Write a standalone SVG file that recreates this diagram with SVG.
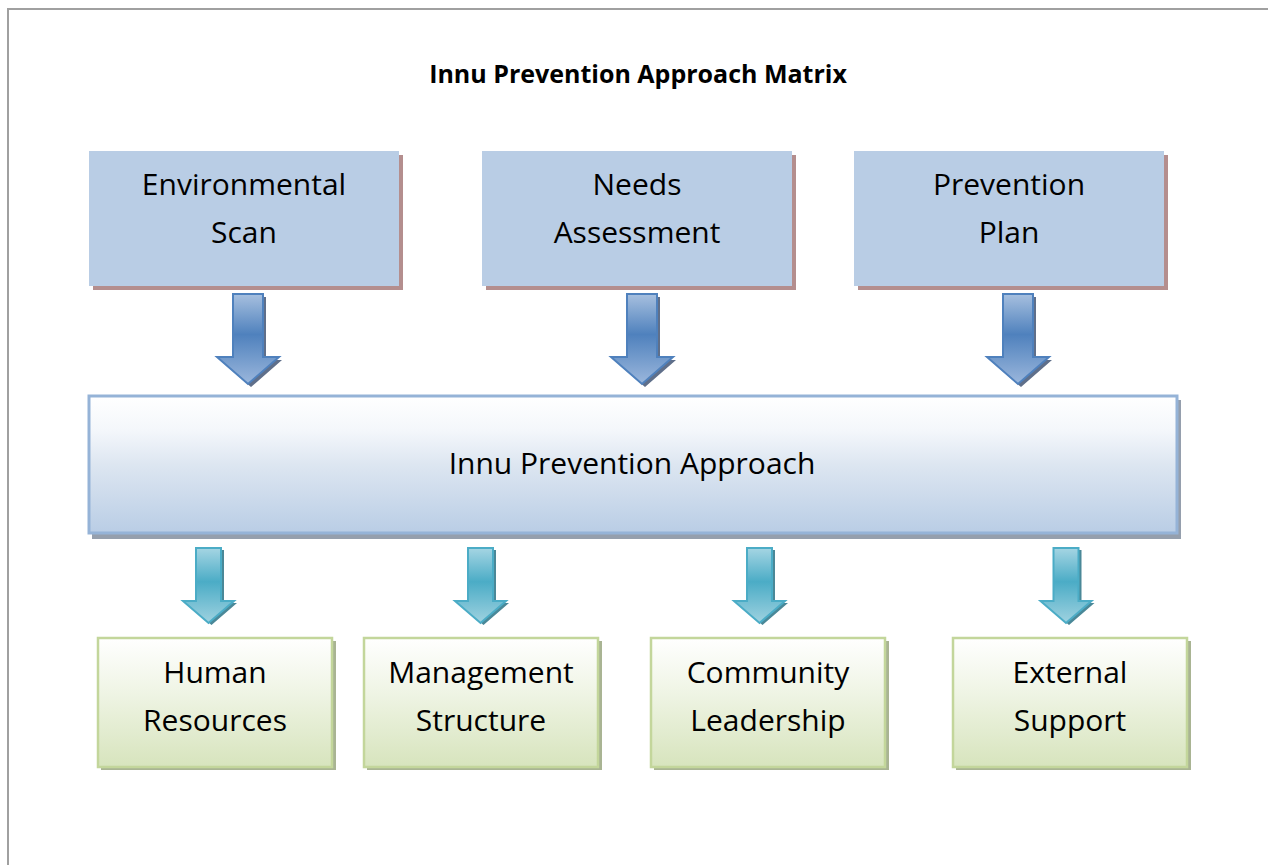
<svg xmlns="http://www.w3.org/2000/svg" width="1268" height="865" viewBox="0 0 1268 865">
<style>
text{font-family:"Open Sans","Liberation Sans",sans-serif;fill:#000;text-anchor:middle}
.lbl{font-size:30px}
.title{font-size:25px;font-weight:bold}
.top{fill:#b9cde5}
.topsh{fill:#b48e8e}
.mid{fill:url(#gMid);stroke:#95b3d7;stroke-width:3}
.midsh{fill:#959fad}
.bot{fill:url(#gBot);stroke:#c3d69b;stroke-width:2.5}
.botsh{fill:#a9b493}
.ab{fill:url(#gArB);stroke:#4f81bd;stroke-width:2}
.at{fill:url(#gArT);stroke:#4bacc6;stroke-width:2}
.ash{fill:#5f6f8a}
.atsh{fill:#4a8898}
</style>
<defs>
<linearGradient id="gMid" x1="0" y1="0" x2="0" y2="1">
<stop offset="0" stop-color="#ffffff"/><stop offset="0.25" stop-color="#f4f7fb"/><stop offset="0.5" stop-color="#dde6f1"/><stop offset="1" stop-color="#b9cde5"/>
</linearGradient>
<linearGradient id="gBot" x1="0" y1="0" x2="0" y2="1">
<stop offset="0" stop-color="#ffffff"/><stop offset="0.4" stop-color="#f0f5e6"/><stop offset="1" stop-color="#d7e4bd"/>
</linearGradient>
<linearGradient id="gArB" x1="0" y1="0" x2="0" y2="1">
<stop offset="0" stop-color="#a7c0df"/><stop offset="0.45" stop-color="#4f81bd"/><stop offset="1" stop-color="#9bb7dc"/>
</linearGradient>
<linearGradient id="gArT" x1="0" y1="0" x2="0" y2="1">
<stop offset="0" stop-color="#a5d5e3"/><stop offset="0.45" stop-color="#4bacc6"/><stop offset="1" stop-color="#9fd2e0"/>
</linearGradient>
<path id="arB" d="M-15,0 H15 V63 H31 L0,90 L-31,63 H-15 Z"/>
<path id="arT" d="M-12.5,0 H12.5 V53 H25.5 L0,75 L-25.5,53 H-12.5 Z"/>
</defs>
<rect x="8" y="9" width="1300" height="900" fill="#ffffff" stroke="#a0a0a0" stroke-width="2"/>
<text class="title" x="638" y="83">Innu Prevention Approach Matrix</text>

<g id="node-env">
<rect class="topsh" x="93" y="155" width="310" height="135"/>
<rect class="top" x="89" y="151" width="310" height="135"/>
<text class="lbl" x="244" y="195">Environmental</text>
<text class="lbl" x="244" y="243">Scan</text>
</g>
<g id="node-needs">
<rect class="topsh" x="486" y="155" width="310" height="135"/>
<rect class="top" x="482" y="151" width="310" height="135"/>
<text class="lbl" x="637" y="195">Needs</text>
<text class="lbl" x="637" y="243">Assessment</text>
</g>
<g id="node-plan">
<rect class="topsh" x="858" y="155" width="310" height="135"/>
<rect class="top" x="854" y="151" width="310" height="135"/>
<text class="lbl" x="1009" y="195">Prevention</text>
<text class="lbl" x="1009" y="243">Plan</text>
</g>

<g id="node-approach">
<rect class="midsh" x="92" y="400" width="1089" height="139"/>
<rect class="mid" x="89" y="396" width="1088" height="137"/>
<text class="lbl" x="632" y="474">Innu Prevention Approach</text>
</g>

<g id="node-hr">
<rect class="botsh" x="101" y="641" width="235" height="129"/>
<rect class="bot" x="98" y="638" width="234" height="129"/>
<text class="lbl" x="215" y="683">Human</text>
<text class="lbl" x="215" y="731">Resources</text>
</g>
<g id="node-ms">
<rect class="botsh" x="367" y="641" width="235" height="129"/>
<rect class="bot" x="364" y="638" width="234" height="129"/>
<text class="lbl" x="481" y="683">Management</text>
<text class="lbl" x="481" y="731">Structure</text>
</g>
<g id="node-cl">
<rect class="botsh" x="654" y="641" width="235" height="129"/>
<rect class="bot" x="651" y="638" width="234" height="129"/>
<text class="lbl" x="768" y="683">Community</text>
<text class="lbl" x="768" y="731">Leadership</text>
</g>
<g id="node-es">
<rect class="botsh" x="956" y="641" width="235" height="129"/>
<rect class="bot" x="953" y="638" width="234" height="129"/>
<text class="lbl" x="1070" y="683">External</text>
<text class="lbl" x="1070" y="731">Support</text>
</g>

<g id="connectors">
<use href="#arB" class="ash" transform="translate(251,297)"/>
<use href="#arB" class="ab" transform="translate(248,294)"/>
<use href="#arB" class="ash" transform="translate(645,297)"/>
<use href="#arB" class="ab" transform="translate(642,294)"/>
<use href="#arB" class="ash" transform="translate(1021,297)"/>
<use href="#arB" class="ab" transform="translate(1018,294)"/>
<use href="#arT" class="atsh" transform="translate(211.5,550)"/>
<use href="#arT" class="at" transform="translate(208.5,548)"/>
<use href="#arT" class="atsh" transform="translate(483.5,550)"/>
<use href="#arT" class="at" transform="translate(480.5,548)"/>
<use href="#arT" class="atsh" transform="translate(762.5,550)"/>
<use href="#arT" class="at" transform="translate(759.5,548)"/>
<use href="#arT" class="atsh" transform="translate(1069,550)"/>
<use href="#arT" class="at" transform="translate(1066,548)"/>
</g>
</svg>
